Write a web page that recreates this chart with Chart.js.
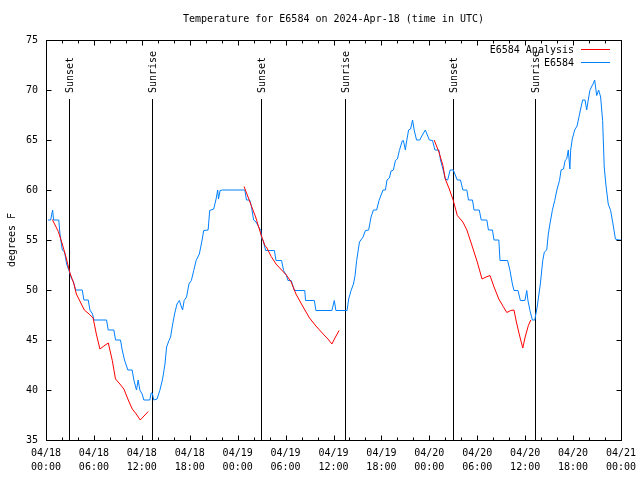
<!DOCTYPE html>
<html>
<head>
<meta charset="utf-8">
<script src="https://cdn.jsdelivr.net/npm/chart.js@4.4.1/dist/chart.umd.min.js"></script>
<style>
html, body { margin: 0; padding: 0; background: #fff; }
</style>
</head>
<body>
<canvas id="myChart" width="640" height="480"></canvas>
<script>
// hours since 04/18 00:00 UTC
let stationHours = [
    0.25, 0.58, 0.83, 0.95, 1.6, 1.75, 2.04, 2.33, 2.58, 2.88, 3.17, 3.42, 3.71, 4.54, 4.75, 5.29,
    5.5, 5.83, 6.0, 7.58, 7.79, 8.5, 8.71, 9.33, 9.54, 9.83, 10.25, 10.79, 11.0, 11.33, 11.54, 11.75,
    12.04, 12.25, 13.0, 13.17, 13.3, 13.5, 13.9, 14.25, 14.6, 14.9, 15.1, 15.4, 15.6, 15.8, 16.1, 16.4,
    16.7, 16.96, 17.1, 17.3, 17.6, 17.9, 18.2, 18.5, 18.8, 19.2, 19.5, 19.75, 20.3, 20.5, 21.0, 21.3,
    21.5, 21.6, 21.8, 22.1, 24.9, 25.1, 25.5, 25.7, 26.0, 26.3, 26.6, 26.9, 27.0, 27.2, 27.5, 28.6,
    28.8, 29.5, 29.75, 30.1, 30.3, 30.7, 30.9, 31.1, 32.4, 32.5, 33.6, 33.8, 35.8, 36.1, 36.3, 37.7,
    37.9, 38.2, 38.5, 38.7, 38.9, 39.25, 39.7, 40.0, 40.4, 40.7, 41.0, 41.4, 41.7, 42.2, 42.5, 42.7,
    43.0, 43.2, 43.5, 43.75, 44.0, 44.25, 44.6, 44.75, 45.0, 45.1, 45.4, 45.65, 45.9, 46.1, 46.4, 46.8,
    47.2, 47.5, 47.7, 48.0, 48.4, 48.7, 49.2, 49.4, 49.7, 50.0, 50.3, 50.6, 51.0, 51.2, 51.5, 51.9,
    52.2, 52.7, 52.9, 53.4, 53.6, 54.25, 54.5, 55.2, 55.4, 55.9, 56.1, 56.7, 56.85, 57.8, 58.1, 58.4,
    58.6, 59.1, 59.4, 59.97, 60.2, 60.35, 60.6, 60.9, 61.2, 61.5, 61.9, 62.2, 62.4, 62.7, 62.9, 63.1,
    63.4, 63.7, 64.0, 64.3, 64.5, 64.8, 65.0, 65.2, 65.4, 65.6, 65.7, 65.9, 66.2, 66.5, 66.75, 67.0,
    67.2, 67.5, 67.7, 67.9, 68.1, 68.3, 68.5, 68.7, 68.96, 69.2, 69.45, 69.7, 69.9, 70.1, 70.4, 70.7,
    71.0, 71.3, 71.75, 72.0
];
let stationTemps = [
    57, 57, 58, 57, 57, 55.6, 54, 53.8, 52.6, 51.95, 51.2, 50.85, 50, 50, 49, 49,
    48, 47.6, 47, 47, 46, 46, 45, 45, 44, 43, 42, 42, 41, 40, 41, 40,
    39.6, 39, 39, 39.7, 39.7, 39, 39.1, 39.95, 41.1, 42.6, 44.3, 44.95, 45.3, 46.3, 47.6, 48.6,
    48.95, 48.3, 48.0, 48.95, 49.3, 50.6, 50.95, 51.95, 52.95, 53.6, 54.8, 55.95, 56, 57.95, 58.1, 59.1,
    60, 59.1, 59.95, 60, 60, 59, 59, 58.45, 57, 56.8, 56.35, 55.95, 55.1, 54.95, 53.95, 53.95,
    52.95, 52.95, 51.95, 51.45, 50.95, 50.95, 50.45, 49.95, 49.95, 48.95, 48.95, 47.95, 47.95, 48.95, 47.95, 47.95,
    49.1, 49.95, 50.6, 51.45, 52.95, 54.8, 55.3, 55.95, 56, 57.3, 58, 58, 58.95, 60, 60, 61,
    61.2, 61.9, 62, 62.95, 63.1, 63.95, 64.9, 64.95, 64, 64.6, 66, 66.1, 67, 66, 65, 65,
    65.6, 66, 65.6, 65, 64.95, 64, 64, 63, 62.1, 61.1, 61, 62, 62, 61.6, 61, 61,
    60, 60, 59, 59, 58, 58, 57, 57, 56, 56, 55, 55, 52.95, 52.95, 51.95, 50.6,
    49.95, 49.95, 48.95, 48.95, 49.95, 48.95, 47.95, 47, 47, 48.3, 50.6, 52.95, 53.8, 54, 55.6, 56.6,
    57.95, 58.95, 60.1, 60.95, 62, 62.1, 62.95, 63.1, 64, 62.1, 64, 65.1, 66, 66.4, 67.35, 68.3,
    69, 69, 68, 69, 69.95, 70.3, 70.6, 71, 69.45, 70, 69.3, 66.95, 62.3, 60.6, 58.6, 57.95,
    56.6, 55.1, 55, 55
];

// analysis, null temps break the line between the three runs
let analysisHours = [
    0.79, 1.54, 2.04, 2.5, 3.0, 3.5, 3.8, 4.3, 4.8, 5.4, 5.9, 6.3, 6.75, 7.25, 7.8, 8.3,
    8.7, 9.25, 9.75, 10.25, 10.8, 11.3, 11.8, 12.8,
    18,
    24.8, 25.3, 25.7, 26.25, 26.9, 27.4, 27.6, 28.2, 28.8, 29.5, 30.1, 30.7, 31.3, 32.2, 33.0, 33.8,
    34.7, 35.3, 35.8, 36.25, 36.7,
    42,
    48.6, 49.2, 49.7, 50.0, 50.5, 51.0, 51.5, 52.2, 52.7, 53.4, 54.0, 54.6, 55.1, 55.6, 56.1, 56.7,
    57.25, 57.7, 58.2, 58.6, 58.9, 59.25, 59.7, 60.0, 60.4, 60.7
];
let analysisTemps = [
    57.05, 55.85, 54.6, 53.3, 51.7, 50.6, 49.6, 48.8, 48.0, 47.6, 47.2, 45.6, 44.1, 44.4, 44.7, 42.95,
    41.1, 40.6, 40.1, 39.1, 38.1, 37.6, 37.0, 37.85,
    null,
    60.35, 59.3, 58.45, 57.3, 55.6, 54.45, 54.3, 53.35, 52.6, 52.0, 51.5, 50.8, 49.6, 48.3, 47.2, 46.4,
    45.6, 45.1, 44.6, 45.3, 45.95,
    null,
    65.0, 63.8, 62.45, 61.1, 60.1, 58.95, 57.45, 56.8, 56.0, 54.3, 52.8, 51.1, 51.3, 51.45, 50.3, 49.1,
    48.35, 47.75, 47.95, 48.0, 46.8, 45.6, 44.2, 45.3, 46.45, 47.0
];

let sunHours = [2.9, 13.3, 26.9, 37.4, 51.0, 61.2];
let sunLabels = ["Sunset", "Sunrise", "Sunset", "Sunrise", "Sunset", "Sunrise"];

let legendNames = ["E6584 Analysis", "E6584"];
let lineColors = ["#ff0000", "#0080ff"];

let fontFam = "'DejaVu Sans Mono', 'Liberation Mono', monospace";

function toPoints(xs, ys) {
    return xs.map((x, i) => ({ x: x, y: ys[i] }));
}

function crisp(v) {
    return Math.round(v) + 0.5;
}

const gnuplotLook = {
    id: "gnuplotLook",
    beforeDraw(chart) {
        let ctx = chart.ctx;
        ctx.save();
        ctx.fillStyle = "#fff";
        ctx.fillRect(0, 0, chart.width, chart.height);
        ctx.restore();
    },
    beforeDatasetsDraw(chart) {
        let ctx = chart.ctx;
        let xs = chart.scales.x;
        let area = chart.chartArea;
        ctx.save();
        ctx.strokeStyle = "#000";
        ctx.fillStyle = "#000";
        ctx.lineWidth = 1;
        ctx.font = "10px " + fontFam;
        sunHours.forEach((h, i) => {
            let px = crisp(xs.getPixelForValue(h));
            ctx.beginPath();
            ctx.moveTo(px, 99);
            ctx.lineTo(px, area.bottom);
            ctx.stroke();
            ctx.save();
            ctx.translate(px + 1, 93);
            ctx.rotate(-Math.PI / 2);
            ctx.textAlign = "left";
            ctx.textBaseline = "middle";
            ctx.fillText(sunLabels[i], 0, 0);
            ctx.restore();
        });
        ctx.restore();
    },
    afterDatasetsDraw(chart) {
        let ctx = chart.ctx;
        let xs = chart.scales.x;
        let ys = chart.scales.y;
        let a = chart.chartArea;
        let l = crisp(a.left), r = crisp(a.right), t = crisp(a.top), b = crisp(a.bottom);
        ctx.save();
        ctx.strokeStyle = "#000";
        ctx.lineWidth = 1;
        ctx.beginPath();
        // inward ticks: x major 6h, minor 2h
        for (let h = 0; h <= 72; h += 2) {
            let px = crisp(xs.getPixelForValue(h));
            let len = (h % 6 == 0) ? 5 : 3;
            ctx.moveTo(px, b); ctx.lineTo(px, b - len);
            ctx.moveTo(px, t); ctx.lineTo(px, t + len);
        }
        ys.ticks.forEach(tk => {
            let py = crisp(ys.getPixelForValue(tk.value));
            ctx.moveTo(l, py); ctx.lineTo(l + 5, py);
            ctx.moveTo(r, py); ctx.lineTo(r - 5, py);
        });
        ctx.stroke();
        ctx.strokeRect(l, t, r - l, b - t);

        // title
        ctx.fillStyle = "#000";
        ctx.font = "10px " + fontFam;
        ctx.textAlign = "center";
        ctx.textBaseline = "middle";
        ctx.fillText("Temperature for E6584 on 2024-Apr-18 (time in UTC)", (a.left + a.right) / 2, 19);

        // y title
        ctx.save();
        ctx.translate(12, 240);
        ctx.rotate(-Math.PI / 2);
        ctx.fillText("degrees F", 0, 0);
        ctx.restore();

        // legend
        ctx.textAlign = "right";
        legendNames.forEach((name, i) => {
            let yy = 50 + i * 13;
            ctx.fillStyle = "#000";
            ctx.fillText(name, 574, yy);
            ctx.strokeStyle = lineColors[i];
            ctx.beginPath();
            ctx.moveTo(581, yy - 0.5);
            ctx.lineTo(610, yy - 0.5);
            ctx.stroke();
        });
        ctx.restore();
    }
};

let canvas = document.getElementById("myChart");
let ctx = canvas.getContext("2d");

let myChart = new Chart(ctx, {
    type: "line",
    data: {
        datasets: [{
            label: legendNames[0],
            data: toPoints(analysisHours, analysisTemps),
            borderColor: lineColors[0],
            borderWidth: 1,
            pointRadius: 0,
            tension: 0,
            spanGaps: false,
            fill: false
        }, {
            label: legendNames[1],
            data: toPoints(stationHours, stationTemps),
            borderColor: lineColors[1],
            borderWidth: 1,
            pointRadius: 0,
            tension: 0,
            fill: false
        }]
    },
    options: {
        responsive: false,
        animation: false,
        devicePixelRatio: 1,
        layout: {
            padding: { left: 0, right: 19, top: 40, bottom: 0 }
        },
        plugins: {
            legend: { display: false },
            title: { display: false },
            tooltip: { enabled: false }
        },
        scales: {
            x: {
                type: "linear",
                min: 0,
                max: 72,
                grid: { display: false, drawTicks: false },
                border: { display: false },
                ticks: {
                    stepSize: 6,
                    padding: 6,
                    maxRotation: 0,
                    autoSkip: false,
                    color: "#000",
                    font: { family: fontFam, size: 10, lineHeight: 1.4 },
                    callback: function(value) {
                        let day = 18 + Math.floor(value / 24);
                        let hh = value % 24;
                        return ["04/" + day, (hh < 10 ? "0" : "") + hh + ":00"];
                    }
                },
                afterFit: function(scale) {
                    scale.height = 40;
                    scale.paddingLeft = 0;
                    scale.paddingRight = 0;
                }
            },
            y: {
                min: 35,
                max: 75,
                grid: { display: false, drawTicks: false },
                border: { display: false },
                ticks: {
                    stepSize: 5,
                    padding: 8,
                    color: "#000",
                    font: { family: fontFam, size: 10 }
                },
                afterFit: function(scale) {
                    scale.width = 46;
                    scale.paddingTop = 0;
                    scale.paddingBottom = 0;
                }
            }
        }
    },
    plugins: [gnuplotLook]
});
</script>
</body>
</html>
